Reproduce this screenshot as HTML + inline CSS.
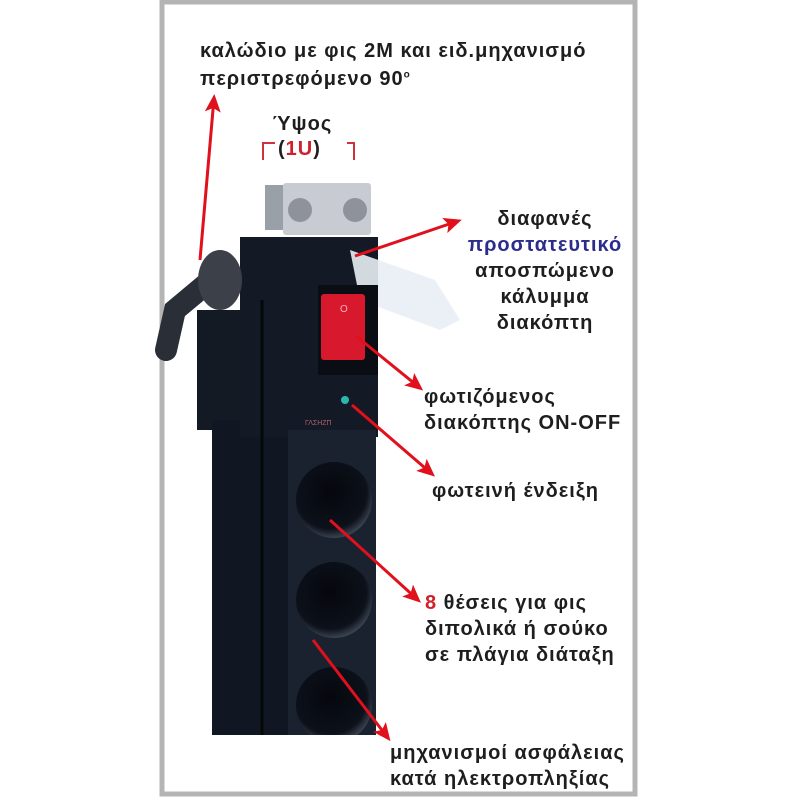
<!DOCTYPE html>
<html><head><meta charset="utf-8"><style>
body{margin:0;width:800px;height:800px;background:#fff;position:relative;overflow:hidden;font-family:"Liberation Sans","DejaVu Sans",sans-serif}
.t{position:absolute;font-size:20px;font-weight:bold;color:#1e1e1e;letter-spacing:1px;white-space:nowrap}
.c{text-align:center}
</style></head><body>
<svg width="800" height="800" style="position:absolute;left:0;top:0">
<defs>
<marker id="a" markerWidth="18" markerHeight="16" refX="14" refY="8" orient="auto" markerUnits="userSpaceOnUse" viewBox="0 0 18 16"><path d="M0,0 L18,8 L0,16 L4,8 z" fill="#e0101c"/></marker>
<radialGradient id="s" cx="0.45" cy="0.4" r="0.6"><stop offset="0" stop-color="#05070c"/><stop offset="0.8" stop-color="#0c111a"/><stop offset="1" stop-color="#3a4250"/></radialGradient>
<clipPath id="cb"><rect x="0" y="0" width="800" height="735"/></clipPath>
</defs>
<rect x="162" y="2" width="473" height="792" fill="none" stroke="#b4b4b4" stroke-width="5"/>
<path d="M166,350 L175,310 L205,285" stroke="#2a2e36" stroke-width="22" fill="none" stroke-linecap="round"/>
<rect x="197" y="310" width="70" height="120" fill="#141a24"/>
<rect x="212" y="420" width="80" height="315" fill="#111722"/>
<rect x="240" y="237" width="138" height="200" fill="#131925"/>
<line x1="262" y1="300" x2="262" y2="735" stroke="#050709" stroke-width="3"/>
<g clip-path="url(#cb)">
<rect x="288" y="430" width="88" height="305" fill="#1a2230"/>
<circle cx="334" cy="500" r="38" fill="url(#s)"/>
<circle cx="334" cy="600" r="38" fill="url(#s)"/>
<circle cx="334" cy="705" r="38" fill="url(#s)"/>
</g>
<rect x="265" y="185" width="20" height="45" fill="#9aa0a8"/>
<rect x="283" y="183" width="88" height="52" rx="3" fill="#c8ccd2"/>
<circle cx="300" cy="210" r="12" fill="#8e939b"/><circle cx="355" cy="210" r="12" fill="#8e939b"/>
<path d="M350,250 L435,280 L460,320 L440,330 L360,300 Z" fill="#e8eef4" opacity="0.9"/>
<ellipse cx="220" cy="280" rx="22" ry="30" fill="#3c4048"/>
<rect x="318" y="285" width="60" height="90" fill="#0a0d14"/>
<rect x="321" y="294" width="44" height="66" rx="3" fill="#d8182c"/>
<text x="340" y="312" font-size="10" fill="#f5b0b8" font-family="Liberation Sans">O</text>
<circle cx="345" cy="400" r="4" fill="#29b8b0"/>
<text x="305" y="425" font-size="7" fill="#b06070" font-family="Liberation Sans">ΓΛΣΗΖΠ</text>
<g stroke="#e0101c" stroke-width="3" fill="none" marker-end="url(#a)">
<line x1="200" y1="260" x2="214" y2="98"/>
<line x1="355" y1="256" x2="458" y2="221"/>
<line x1="356" y1="336" x2="420" y2="388"/>
<line x1="352" y1="405" x2="432" y2="474"/>
<line x1="330" y1="520" x2="418" y2="600"/>
<line x1="313" y1="640" x2="388" y2="738"/>
</g>
<path d="M263,160 V143 H275 M347,143 H354 V160" stroke="#d03040" stroke-width="2" fill="none"/>
</svg>
<div class="t" style="left:200px;top:40px">καλώδιο με φις 2Μ και ειδ.μηχανισμό</div>
<div class="t" style="left:200px;top:68px">περιστρεφόμενο 90<sup style="font-size:10px">ο</sup></div>
<div class="t" style="left:272px;top:113px">Ύψος</div>
<div class="t" style="left:278px;top:138px">(<span style="color:#d0202c">1U</span>)</div>
<div class="t c" style="left:455px;width:180px;top:206px;line-height:26px">διαφανές<br><span style="color:#2c2c8c">προστατευτικό</span><br>αποσπώμενο<br>κάλυμμα<br>διακόπτη</div>
<div class="t" style="left:424px;top:384px;line-height:26px">φωτιζόμενος<br>διακόπτης ON-OFF</div>
<div class="t" style="left:432px;top:480px">φωτεινή ένδειξη</div>
<div class="t" style="left:425px;top:590px;line-height:26px"><span style="color:#d0202c">8</span> θέσεις για φις<br>διπολικά ή σούκο<br>σε πλάγια διάταξη</div>
<div class="t" style="left:390px;top:740px;line-height:26px">μηχανισμοί ασφάλειας<br>κατά ηλεκτροπληξίας</div>
</body></html>
